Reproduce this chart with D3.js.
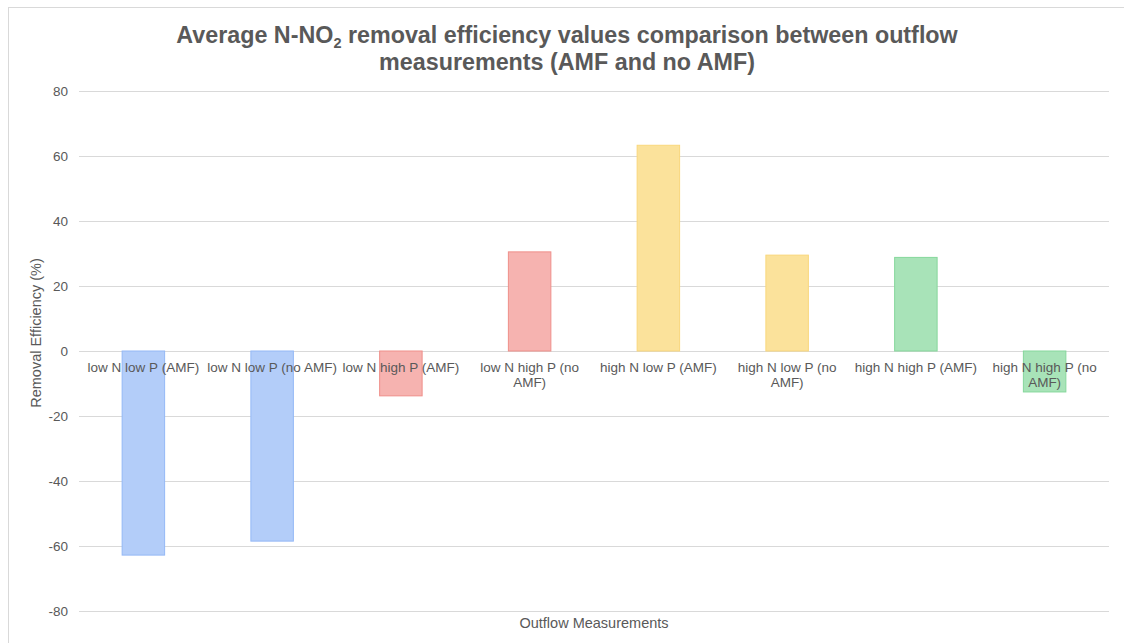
<!DOCTYPE html>
<html>
<head>
<meta charset="utf-8">
<script src="https://cdn.jsdelivr.net/npm/d3@7"></script>
<style>
  body { margin: 0; background: #fff; }
  svg { font-family: "Liberation Sans", Arial, sans-serif; }
</style>
</head>
<body>
<div id="chart"></div>
<script>
// data
const categories = [
  "low N low P (AMF)", "low N low P (no AMF)",
  "low N high P (AMF)", "low N high P (no AMF)",
  "high N low P (AMF)", "high N low P (no AMF)",
  "high N high P (AMF)", "high N high P (no AMF)"
];
const values = [-62.8, -58.5, -13.8, 30.5, 63.3, 29.5, 28.8, -12.6];
const fills = ["#b3cdf9", "#b3cdf9", "#f6b3b0", "#f6b3b0", "#fbe29b", "#fbe29b", "#a8e3b8", "#a8e3b8"];
const strokes = ["#94b8f6", "#94b8f6", "#ef8f8a", "#ef8f8a", "#f9d77c", "#f9d77c", "#86d79c", "#86d79c"];
const yTicks = [-80, -60, -40, -20, 0, 20, 40, 60, 80];

const W = 1124, H = 643;
const margin = { top: 91, right: 15, bottom: 32, left: 79 };
const width = 1109 - margin.left;
const height = 611 - margin.top;
const textCol = "#595959";

const svg = d3.select("#chart").append("svg")
  .attr("width", W).attr("height", H);

// chart frame
svg.append("rect")
  .attr("x", 8.5).attr("y", 7.5)
  .attr("width", 1130).attr("height", 650)
  .attr("fill", "#fff").attr("stroke", "#d9d9d9");

const g = svg.append("g")
  .attr("transform", `translate(${margin.left},${margin.top})`);

const x = d3.scaleBand().domain(categories).range([0, width]).paddingInner(0.67).paddingOuter(0.335);
const y = d3.scaleLinear().domain([-80, 80]).range([height, 0]);

// gridlines + y labels
const yAxis = d3.axisLeft(y).tickValues(yTicks).tickSize(-width).tickPadding(11)
  .tickFormat(d => String(d));
const ya = g.append("g").call(yAxis);
ya.select(".domain").remove();
ya.selectAll(".tick line").attr("stroke", "#d9d9d9").attr("stroke-width", 1);
ya.selectAll(".tick text").attr("fill", textCol).style("font-size", "13.5px")
  .style("font-family", "Liberation Sans, Arial, sans-serif");

// bars
g.selectAll("rect.bar").data(values).join("rect")
  .attr("class", "bar")
  .attr("x", (d, i) => x(categories[i]))
  .attr("width", x.bandwidth())
  .attr("y", d => y(Math.max(0, d)))
  .attr("height", d => Math.abs(y(d) - y(0)))
  .attr("fill", (d, i) => fills[i])
  .attr("stroke", (d, i) => strokes[i])
  .attr("stroke-width", 1);

// category labels, wrapped to the band step (drawn over bars like Excel)
const step = x.step();
const measure = svg.append("text").style("font-size", "13.5px").attr("visibility", "hidden");
function wrap(str, maxW) {
  const words = str.split(" ");
  const lines = [];
  let cur = "";
  words.forEach(w => {
    const t = cur ? cur + " " + w : w;
    measure.text(t);
    if (measure.node().getComputedTextLength() > maxW && cur) {
      lines.push(cur); cur = w;
    } else cur = t;
  });
  lines.push(cur);
  return lines;
}
categories.forEach((c, i) => {
  const cx = x(c) + x.bandwidth() / 2;
  const lines = wrap(c, step + 2);
  const t = g.append("text")
    .attr("x", cx).attr("y", y(0) + 21)
    .attr("text-anchor", "middle")
    .attr("fill", textCol)
    .style("font-size", "13.5px");
  lines.forEach((l, k) => {
    t.append("tspan").attr("x", cx).attr("dy", k === 0 ? 0 : 14.5).text(l);
  });
});
measure.remove();

// axis titles
svg.append("text")
  .attr("x", margin.left + width / 2).attr("y", 628)
  .attr("text-anchor", "middle").attr("fill", textCol)
  .style("font-size", "14.5px")
  .text("Outflow Measurements");

svg.append("text")
  .attr("transform", `translate(41,${margin.top + height / 2 - 18}) rotate(-90)`)
  .attr("text-anchor", "middle").attr("fill", textCol)
  .style("font-size", "14.5px")
  .text("Removal Efficiency (%)");

// title
const title = svg.append("text")
  .attr("x", 567).attr("y", 43)
  .attr("text-anchor", "middle").attr("fill", textCol)
  .style("font-size", "23.3px").style("font-weight", "bold");
title.append("tspan").text("Average N-NO");
title.append("tspan").attr("dy", 5).style("font-size", "14.5px").text("2");
title.append("tspan").attr("dy", -5).text(" removal efficiency values comparison between outflow");
svg.append("text")
  .attr("x", 567).attr("y", 70)
  .attr("text-anchor", "middle").attr("fill", textCol)
  .style("font-size", "23.3px").style("font-weight", "bold")
  .text("measurements (AMF and no AMF)");
</script>
</body>
</html>
